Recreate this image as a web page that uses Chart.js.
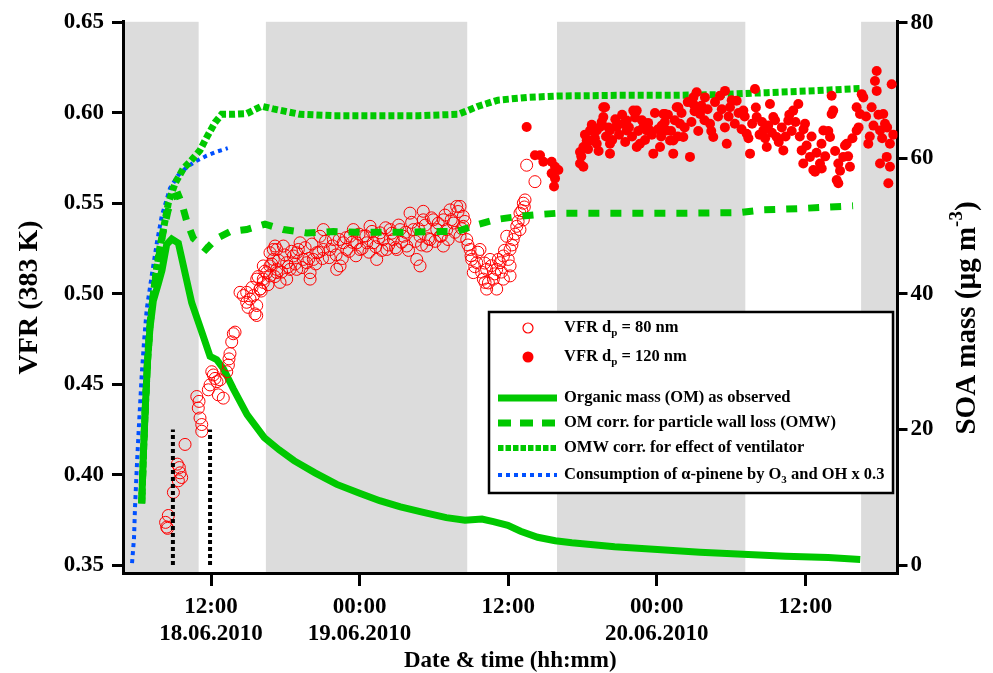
<!DOCTYPE html>
<html>
<head>
<meta charset="utf-8">
<script src="https://cdn.jsdelivr.net/npm/chart.js@4.4.1/dist/chart.umd.min.js"></script>
<style>
  html, body { margin: 0; padding: 0; background: #fff; }
</style>
</head>
<body>
<canvas id="chart" width="993" height="673"></canvas>
<script>
// x values are hours counted from 00:00 on 18.06.2010

// time axis
const timeTicks = [12, 24, 36, 48, 60];
const timeLabels = ["12:00", "00:00", "12:00", "00:00", "12:00"];
const dateLabels = ["18.06.2010", "19.06.2010", "", "20.06.2010", ""];
const vfrTicks = [0.35, 0.40, 0.45, 0.50, 0.55, 0.60, 0.65];
const massTicks = [0, 20, 40, 60, 80];

// night (grey) periods
const nightStart = [0, 16.43, 39.94, 64.5];
const nightEnd = [11.0, 32.69, 55.15, 80];

// injection markers
const markerHours = [8.92, 11.92];
const markerTop = 20;

// Organic mass (OM) as observed
const omHours = [6.40, 6.55, 6.71, 6.87, 7.07, 7.34, 7.74, 8.04, 8.42, 8.83, 9.36, 9.90, 10.44, 11.25, 11.92, 12.46, 12.99, 13.80, 14.91, 16.30, 17.50, 18.70, 20.40, 22.16, 24.00, 25.62, 27.30, 29.06, 31.00, 32.51, 33.88, 34.80, 35.97, 37.00, 38.38, 39.80, 41.14, 44.59, 48.05, 51.49, 54.95, 58.40, 61.85, 64.43];
const omMass = [9.1, 17, 24, 30, 35, 39, 41.5, 43.5, 47.3, 48.1, 47.5, 43.1, 38.7, 34.4, 30.8, 30.3, 29.0, 26.0, 22.2, 18.8, 17.0, 15.4, 13.6, 11.9, 10.6, 9.5, 8.6, 7.8, 7.0, 6.6, 6.8, 6.4, 5.85, 5.0, 4.1, 3.6, 3.3, 2.7, 2.3, 1.9, 1.6, 1.3, 1.1, 0.83];

// OM corr. for particle wall loss (OMW)
const omwHours = [6.40, 6.55, 6.71, 6.87, 7.07, 7.34, 7.74, 8.12, 8.53, 8.93, 9.36, 9.63, 10.04, 10.57, 11.60, 12.46, 13.53, 14.88, 16.36, 17.84, 19.73, 21.88, 23.77, 27.00, 30.23, 31.84, 33.46, 35.07, 36.69, 38.30, 39.92, 44.49, 49.87, 54.72, 56.60, 59.57, 63.85];
const omwMass = [9.1, 17, 24, 30, 35.5, 40, 45, 49, 52.3, 54.3, 54.6, 53.4, 50.7, 48.2, 46.6, 48.2, 49.2, 49.5, 50.3, 49.5, 49.0, 49.2, 49.1, 49.1, 49.2, 49.2, 50.2, 51.0, 51.4, 51.7, 51.9, 51.9, 51.9, 52.0, 52.4, 52.6, 53.0];

// OMW corr. for effect of ventilator
const omvHours = [6.40, 6.55, 6.71, 6.87, 7.07, 7.34, 7.62, 7.88, 8.15, 8.55, 9.09, 9.76, 10.30, 11.11, 11.65, 12.32, 12.86, 13.80, 14.88, 16.09, 17.03, 19.19, 21.88, 24.74, 28.76, 31.97, 33.58, 35.18, 37.60, 40.01, 44.83, 48.85, 52.86, 56.88, 60.90, 64.41];
const omvMass = [9.1, 17, 24, 30, 35.5, 40, 44, 47, 49.5, 53.4, 56.3, 58.5, 59.5, 61.2, 63.1, 65.3, 66.5, 66.5, 66.6, 67.7, 67.3, 66.5, 66.3, 66.3, 66.3, 66.5, 67.7, 68.6, 69.0, 69.2, 69.3, 69.3, 69.4, 69.7, 70.0, 70.3];

// consumption of alpha-pinene x 0.3
const pinHours = [5.62, 5.78, 5.86, 6.02, 6.19, 6.40, 6.59, 6.81, 7.21, 7.62, 8.02, 8.69, 9.34, 10.04, 10.79, 11.65, 12.48, 13.35];
const pinMass = [0.3, 4, 8.5, 15, 21, 28, 33, 37.8, 42.7, 47.5, 51.5, 55.6, 57.5, 58.7, 59.6, 60.4, 61.0, 61.5];

// VFR dp = 80 nm
const vfr80Hours = [8.42, 8.33, 8.55, 8.49, 8.96, 9.36, 9.63, 9.44, 9.28, 9.50, 9.90, 10.85, 10.97, 11.11, 11.25, 11.25, 11.03,
  11.92, 12.32, 12.19, 12.73, 12.59, 12.99, 11.78, 12.06, 12.48, 13.40, 13.53, 13.67, 13.80, 13.94, 13.27, 13.45,
  14.61, 14.88, 15.15, 15.42, 15.69, 15.55, 14.99, 15.31, 15.96, 16.22, 16.50, 16.76, 17.03, 17.17, 16.76, 17.31,
  15.69, 16.22, 17.57, 17.31, 17.84, 18.11, 18.38, 18.92, 19.19, 19.73, 20.00, 20.54, 20.80, 21.07, 21.61, 22.42,
  22.68, 23.49, 24.03, 24.57, 24.84, 25.38, 25.91, 26.46, 27.00, 27.53, 28.07, 28.61, 28.88, 29.14, 29.69, 30.23,
  30.76, 31.30, 31.84, 32.37, 32.11, 30.76, 32.92, 33.18, 33.46, 33.99, 34.53, 35.07, 35.07, 35.61, 36.15, 35.88,
  36.69, 36.95, 37.22, 37.36, 34.26, 34.13, 36.15, 37.49, 38.16, 29.14, 32.11,
  14.34, 14.88, 15.96, 16.76, 17.03, 18.65, 19.45, 20.26, 21.07, 21.88, 22.15, 22.96, 23.23, 23.77, 24.30, 25.11,
  25.65, 26.19, 26.72, 27.26, 27.80, 28.34, 28.88, 29.42, 29.95, 30.49, 31.03, 31.57, 32.37, 32.65, 33.05, 33.72,
  34.26, 34.80, 35.34, 35.61, 36.15, 36.41, 36.95, 37.22, 20.00, 18.11, 17.31, 15.69, 16.22, 18.92,
  15.80, 16.05, 16.35, 16.60, 16.90, 17.15, 17.45, 17.70, 17.95, 18.25, 18.50, 18.80, 19.05, 19.35, 19.60, 19.90,
  20.15, 20.45, 20.70, 21.00, 21.25, 21.55, 21.80, 22.10, 22.35, 22.60, 22.90, 23.15, 23.40, 23.70, 23.95, 24.20,
  24.50, 24.75, 25.00, 25.30, 25.55, 25.80, 26.10, 26.35, 26.60, 26.90, 27.15, 27.40, 27.70, 27.95, 28.20, 28.50,
  28.75, 29.00, 29.30, 29.55, 29.80, 30.10, 30.35, 30.60, 30.90, 31.15, 31.40, 31.70, 31.95, 32.25, 32.50, 32.75,
  33.00, 33.30, 33.55, 33.85, 34.10, 34.40, 34.65, 34.90, 35.20, 35.45, 35.70, 36.00, 36.30, 36.55, 36.80, 37.10, 37.30];
const vfr80Values = [0.371, 0.3736, 0.3774, 0.3703, 0.3902, 0.3966, 0.3984, 0.4039, 0.4058, 0.4010, 0.4167, 0.4432, 0.4368, 0.4313, 0.4277, 0.4240, 0.4405,
  0.4496, 0.4532, 0.4551, 0.4524, 0.4441, 0.4423, 0.4469, 0.4569, 0.4514, 0.4606, 0.4669, 0.4734, 0.4779, 0.4788, 0.4569, 0.4640,
  0.4990, 0.5008, 0.4971, 0.4990, 0.4935, 0.4889, 0.4925, 0.5035, 0.5026, 0.5081, 0.5117, 0.5154, 0.5190, 0.5264, 0.5227, 0.5117,
  0.4880, 0.5063, 0.5063, 0.5245, 0.5264, 0.5172, 0.5135, 0.5227, 0.5282, 0.5172, 0.5081, 0.5227, 0.5318, 0.5355, 0.5245, 0.5154,
  0.5282, 0.5355, 0.5245, 0.5282, 0.5373, 0.5190, 0.5300, 0.5355, 0.5245, 0.5318, 0.5446, 0.5190, 0.5154, 0.5409, 0.5300, 0.5355,
  0.5409, 0.5464, 0.5483, 0.5428, 0.5318, 0.5264, 0.5245, 0.5117, 0.5172, 0.5081, 0.5190, 0.5026, 0.5135, 0.5209, 0.5154, 0.5318,
  0.5373, 0.5446, 0.5501, 0.5519, 0.5026, 0.5063, 0.5099, 0.5711, 0.5620, 0.5456, 0.5483,
  0.5008, 0.4953, 0.5026, 0.5099, 0.5245, 0.5209, 0.5190, 0.5190, 0.5245, 0.5300, 0.5135, 0.5245, 0.5318, 0.5282, 0.5318, 0.5282,
  0.5337, 0.5245, 0.5300, 0.5355, 0.5264, 0.5355, 0.5318, 0.5264, 0.5409, 0.5318, 0.5355, 0.5391, 0.5373, 0.5300, 0.5190, 0.5245,
  0.5135, 0.5081, 0.5172, 0.5081, 0.5245, 0.5300, 0.5355, 0.5409, 0.5117, 0.5081, 0.5135, 0.5081, 0.5154, 0.5135,
  0.5095, 0.5015, 0.5125, 0.5050, 0.5165, 0.5095, 0.5185, 0.5120, 0.5215, 0.5150, 0.5235, 0.5165, 0.5245, 0.5145, 0.5255, 0.5195,
  0.5275, 0.5165, 0.5230, 0.5195, 0.5290, 0.5200, 0.5265, 0.5215, 0.5300, 0.5195, 0.5310, 0.5235, 0.5285, 0.5210, 0.5330, 0.5250,
  0.5320, 0.5230, 0.5345, 0.5260, 0.5310, 0.5240, 0.5365, 0.5270, 0.5335, 0.5255, 0.5380, 0.5285, 0.5340, 0.5240, 0.5395, 0.5290,
  0.5360, 0.5270, 0.5380, 0.5305, 0.5420, 0.5290, 0.5390, 0.5320, 0.5435, 0.5300, 0.5410, 0.5340, 0.5455, 0.5360, 0.5400, 0.5270,
  0.5210, 0.5150, 0.5230, 0.5120, 0.5170, 0.5060, 0.5155, 0.5110, 0.5190, 0.5120, 0.5240, 0.5190, 0.5270, 0.5330, 0.5400, 0.5460, 0.5480];

// VFR dp = 120 nm
const vfr120Hours = [37.49, 38.16, 38.57, 38.84, 39.51, 39.78, 39.51, 39.78, 39.70, 40.05,
  41.80, 42.07, 41.80, 42.34, 42.61, 43.15, 43.41, 43.68, 43.82, 44.22, 44.22, 44.76, 45.30, 45.57, 46.10, 46.38,
  46.91, 47.45, 47.72, 48.40, 48.66, 49.07, 49.33, 49.74, 49.87, 50.14, 50.68, 50.95, 51.22, 51.49, 51.89, 52.30,
  52.56, 53.10, 53.51, 53.65, 53.91, 54.45, 54.99, 55.26, 55.53, 55.93, 56.07, 56.60, 56.88, 57.41, 57.68, 58.22,
  58.62, 59.02, 59.43, 59.70, 59.97, 60.37, 60.64, 61.18, 61.45, 61.99, 62.12, 62.25, 62.53, 62.66, 63.06, 63.34,
  63.60, 64.14, 64.41, 64.68, 65.08, 65.35, 65.76, 65.62, 65.76, 66.03, 66.29, 66.57, 66.83, 66.70, 66.97, 66.03, 66.43,
  57.14, 59.83, 60.78, 61.32, 62.12, 62.66, 64.14, 64.55, 66.83,
  42.07, 42.61, 43.15, 43.68, 44.22, 44.76, 45.57, 46.38, 46.64, 47.19, 48.26, 48.53, 48.80, 49.33, 49.61, 50.95,
  41.90, 42.20, 42.45, 42.75, 43.00, 43.30, 43.55, 43.90, 44.10, 44.40, 44.65, 44.95, 45.20, 45.45, 45.75, 46.00,
  46.25, 46.50, 46.80, 47.05, 47.30, 47.60, 47.85, 48.10, 48.35, 48.65, 48.90, 49.15, 49.45, 49.70, 50.00, 50.25,
  50.50, 50.80, 51.05, 51.35, 51.60, 51.85, 52.10, 52.40, 52.70, 52.95, 53.25, 53.50, 53.80, 54.05, 54.30, 54.60,
  54.85, 55.10, 55.40, 55.70, 56.00, 56.30, 56.50, 56.75, 57.00, 57.30, 57.55, 57.85, 58.10, 58.40, 58.70, 58.90,
  59.20, 59.55, 59.85, 60.10, 60.50, 60.90, 61.30, 61.60, 61.85, 62.40, 62.80, 63.20, 63.45, 63.80, 64.30, 64.90,
  65.20, 65.50, 65.90, 66.20, 66.60, 67.10];
const vfr120Values = [0.5922, 0.5766, 0.5766, 0.5730, 0.5730, 0.5702, 0.5666, 0.5638, 0.5593, 0.5684,
  0.5720, 0.5702, 0.5784, 0.5848, 0.5903, 0.5830, 0.5922, 0.5977, 0.6031, 0.5775, 0.5903, 0.5930, 0.5940, 0.5903, 0.6013, 0.5812,
  0.5922, 0.5903, 0.5775, 0.5930, 0.5994, 0.5848, 0.5775, 0.6031, 0.5940, 0.5867, 0.5757, 0.6049, 0.6114, 0.5994, 0.6086, 0.5940,
  0.5867, 0.6095, 0.6122, 0.5830, 0.6031, 0.6067, 0.6013, 0.5885, 0.5775, 0.6132, 0.5977, 0.5903, 0.5812, 0.5977, 0.5867, 0.5793,
  0.5958, 0.6013, 0.6049, 0.5793, 0.5940, 0.5757, 0.5684, 0.5720, 0.5903, 0.5867, 0.6095, 0.6013, 0.5629, 0.5720, 0.5757, 0.5830,
  0.5702, 0.5903, 0.5994, 0.6086, 0.5830, 0.6031, 0.6232, 0.6177, 0.6122, 0.5903, 0.5994, 0.5757, 0.5830, 0.5611, 0.6159, 0.5720, 0.5940,
  0.6049, 0.5720, 0.5675, 0.5693, 0.5994, 0.5611, 0.6031, 0.6104, 0.5702,
  0.5812, 0.5848, 0.5903, 0.6031, 0.5830, 0.5922, 0.5958, 0.6013, 0.5830, 0.5903, 0.5812, 0.5994, 0.5903, 0.5848, 0.6031, 0.6086,
  0.5760, 0.5880, 0.5800, 0.5935, 0.5860, 0.5790, 0.5950, 0.5870, 0.5920, 0.5850, 0.5965, 0.5880, 0.5990, 0.5840, 0.5920, 0.5870,
  0.5975, 0.5900, 0.5960, 0.5850, 0.5945, 0.5880, 0.6000, 0.5910, 0.5870, 0.5950, 0.5990, 0.5900, 0.5960, 0.5870, 0.6000, 0.5920,
  0.6060, 0.5950, 0.6010, 0.5900, 0.6040, 0.5960, 0.6020, 0.5900, 0.6060, 0.5980, 0.6020, 0.5920, 0.5980, 0.6070, 0.5940, 0.6000,
  0.5910, 0.5980, 0.5860, 0.5940, 0.6030, 0.5880, 0.5950, 0.5860, 0.5930, 0.5890, 0.5960, 0.5840, 0.5920, 0.5870, 0.5990, 0.5900,
  0.5950, 0.5870, 0.5910, 0.5820, 0.5870, 0.5780, 0.5830, 0.5760, 0.5900, 0.5790, 0.5680, 0.5820, 0.5760, 0.5860, 0.5920, 0.5980,
  0.5870, 0.5930, 0.5990, 0.5860, 0.5920, 0.5880];

const GREEN = "#00c800";
const RED = "#ff0000";
const BLUE = "#0050ff";
const GREY = "#dcdcdc";
const FONT = '"Liberation Serif", "Times New Roman", serif';

const toPoints = (xs, ys) => xs.map((x, i) => ({ x: x, y: ys[i] }));

// grey night bands behind everything
const nightBands = {
    id: "nightBands",
    beforeDraw(chart) {
        const { ctx, chartArea, scales } = chart;
        ctx.save();
        ctx.fillStyle = GREY;
        nightStart.forEach((start, i) => {
            const x1 = Math.max(scales.x.getPixelForValue(start), chartArea.left);
            const x2 = Math.min(scales.x.getPixelForValue(nightEnd[i]), chartArea.right);
            if (x2 > x1) ctx.fillRect(x1, chartArea.top, x2 - x1, chartArea.bottom - chartArea.top);
        });
        ctx.restore();
    }
};

// draw a run of text pieces, some of them sub- or superscript
const drawRuns = (ctx, runs, x, y, size) => {
    runs.forEach((r) => {
        const s = r.sub || r.sup ? Math.round(size * 0.65) : size;
        ctx.font = `bold ${s}px ${FONT}`;
        const dy = r.sub ? size * 0.3 : (r.sup ? -size * 0.38 : 0);
        ctx.fillText(r.t, x, y + dy);
        x += ctx.measureText(r.t).width;
    });
    return x;
};

const runsWidth = (ctx, runs, size) => {
    let w = 0;
    runs.forEach((r) => {
        const s = r.sub || r.sup ? Math.round(size * 0.65) : size;
        ctx.font = `bold ${s}px ${FONT}`;
        w += ctx.measureText(r.t).width;
    });
    return w;
};

// legend box and right axis title
const overlay = {
    id: "overlay",
    afterDraw(chart) {
        const { ctx } = chart;
        ctx.save();

        // legend
        const box = { x: 489, y: 312, w: 404, h: 181 };
        ctx.fillStyle = "#fff";
        ctx.fillRect(box.x, box.y, box.w, box.h);
        ctx.strokeStyle = "#000";
        ctx.lineWidth = 2.5;
        ctx.strokeRect(box.x, box.y, box.w, box.h);

        const size = 16.5;
        const tx = 564;
        ctx.textBaseline = "middle";

        // markers
        ctx.strokeStyle = RED;
        ctx.lineWidth = 1.2;
        ctx.beginPath();
        ctx.arc(528, 328, 5, 0, Math.PI * 2);
        ctx.stroke();
        ctx.fillStyle = RED;
        ctx.beginPath();
        ctx.arc(528, 357, 5.5, 0, Math.PI * 2);
        ctx.fill();

        const lineSample = (y, color, width, dash) => {
            ctx.strokeStyle = color;
            ctx.lineWidth = width;
            ctx.setLineDash(dash);
            ctx.beginPath();
            ctx.moveTo(498, y);
            ctx.lineTo(557, y);
            ctx.stroke();
            ctx.setLineDash([]);
        };
        lineSample(398, GREEN, 7, []);
        lineSample(423, GREEN, 7, [13, 9]);
        lineSample(448, GREEN, 6, [5.5, 2]);
        lineSample(475, BLUE, 4, [4, 4]);

        ctx.fillStyle = "#000";
        drawRuns(ctx, [{ t: "VFR d" }, { t: "p", sub: true }, { t: " = 80 nm" }], tx, 328, size);
        drawRuns(ctx, [{ t: "VFR d" }, { t: "p", sub: true }, { t: " = 120 nm" }], tx, 357, size);
        drawRuns(ctx, [{ t: "Organic mass (OM) as observed" }], tx, 398, size);
        drawRuns(ctx, [{ t: "OM corr. for particle wall loss (OMW)" }], tx, 423, size);
        drawRuns(ctx, [{ t: "OMW corr. for effect of ventilator" }], tx, 448, size);
        drawRuns(ctx, [{ t: "Consumption of \u03b1-pinene by O" }, { t: "3", sub: true }, { t: " and OH x 0.3" }], tx, 475, size);

        // right axis title, rotated
        const titleRuns = [{ t: "SOA mass (\u00b5g m" }, { t: "-3", sup: true }, { t: ")" }];
        const tsize = 29;
        const w = runsWidth(ctx, titleRuns, tsize);
        ctx.translate(968, 318);
        ctx.rotate(-Math.PI / 2);
        drawRuns(ctx, titleRuns, -w / 2, 0, tsize);

        ctx.restore();
    }
};

const tickFont = { family: FONT, size: 23, weight: "bold" };
const axisGrid = (len) => ({
    display: true,
    drawOnChartArea: false,
    drawTicks: true,
    tickLength: len,
    lineWidth: 3,
    color: "#000"
});
const axisBorder = { display: true, width: 3, color: "#000" };

const lineSet = (label, xs, ys, color, width, dash, order) => ({
    label: label,
    data: toPoints(xs, ys),
    yAxisID: "y2",
    showLine: true,
    borderColor: color,
    borderWidth: width,
    borderDash: dash,
    borderCapStyle: "butt",
    pointRadius: 0,
    tension: 0,
    order: order
});

new Chart(document.getElementById("chart"), {
    type: "scatter",
    data: {
        datasets: [
            {
                label: "VFR dp = 120 nm",
                data: toPoints(vfr120Hours, vfr120Values),
                yAxisID: "y",
                pointRadius: 5,
                pointBackgroundColor: RED,
                pointBorderWidth: 0,
                order: 0
            },
            lineSet("OMW corr. for effect of ventilator", omvHours, omvMass, GREEN, 7, [6, 3], 1),
            lineSet("OM corr. for particle wall loss (OMW)", omwHours, omwMass, GREEN, 7, [11, 11], 2),
            lineSet("Consumption of alpha-pinene", pinHours, pinMass, BLUE, 4, [4, 4], 3),
            lineSet("marker 1", [markerHours[0], markerHours[0]], [0, markerTop], "#000", 4, [4, 3], 3),
            lineSet("marker 2", [markerHours[1], markerHours[1]], [0, markerTop], "#000", 4, [4, 3], 3),
            {
                label: "VFR dp = 80 nm",
                data: toPoints(vfr80Hours, vfr80Values),
                yAxisID: "y",
                pointRadius: 6,
                pointBorderColor: RED,
                pointBackgroundColor: "rgba(0,0,0,0)",
                pointBorderWidth: 1,
                order: 4
            },
            lineSet("Organic mass (OM) as observed", omHours, omMass, GREEN, 7, [], 5)
        ]
    },
    options: {
        responsive: false,
        animation: false,
        devicePixelRatio: 1,
        layout: { padding: { top: 17, left: 0, right: 0, bottom: 0 } },
        plugins: {
            legend: { display: false },
            tooltip: { enabled: false }
        },
        scales: {
            x: {
                type: "linear",
                min: 4.89,
                max: 67.44,
                afterBuildTicks: (s) => { s.ticks = timeTicks.map((v) => ({ value: v })); },
                afterFit: (s) => { s.height = 100; },
                ticks: {
                    font: { ...tickFont, lineHeight: 1.15 },
                    color: "#000",
                    padding: 8,
                    maxRotation: 0,
                    autoSkip: false,
                    callback: (v, i) => [timeLabels[i], dateLabels[i]]
                },
                grid: axisGrid(13),
                border: axisBorder,
                title: {
                    display: true,
                    text: "Date & time (hh:mm)",
                    color: "#000",
                    font: { family: FONT, size: 23, weight: "bold", lineHeight: 1 },
                    padding: { top: 0, bottom: 0 }
                }
            },
            y: {
                position: "left",
                min: 0.3456,
                max: 0.6504,
                afterBuildTicks: (s) => { s.ticks = vfrTicks.map((v) => ({ value: v })); },
                afterFit: (s) => { s.width = 123; },
                ticks: {
                    font: tickFont,
                    color: "#000",
                    padding: 8,
                    callback: (v) => v.toFixed(2)
                },
                grid: axisGrid(11),
                border: axisBorder,
                title: {
                    display: true,
                    text: "VFR (383 K)",
                    color: "#000",
                    font: { family: FONT, size: 28, weight: "bold", lineHeight: 1 },
                    padding: { top: 16, bottom: 0 }
                }
            },
            y2: {
                position: "right",
                min: -1.17,
                max: 80.15,
                afterBuildTicks: (s) => { s.ticks = massTicks.map((v) => ({ value: v })); },
                afterFit: (s) => { s.width = 95.5; },
                ticks: {
                    font: tickFont,
                    color: "#000",
                    padding: 3,
                    callback: (v) => String(v)
                },
                grid: axisGrid(10),
                border: axisBorder
            }
        }
    },
    plugins: [nightBands, overlay]
});
</script>
</body>
</html>
